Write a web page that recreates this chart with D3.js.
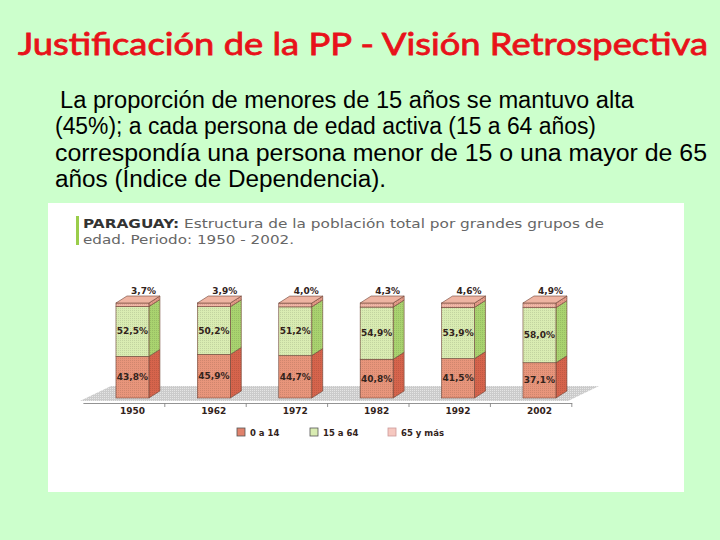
<!DOCTYPE html>
<html><head><meta charset="utf-8">
<script src="https://cdn.jsdelivr.net/npm/d3@7"></script>
<style>html,body{margin:0;padding:0;background:#ccffcc;}svg{display:block;}</style>
</head><body>
<script>
// ---- data ----
const years = ["1950","1962","1972","1982","1992","2002"];
const age0to14 = [43.8,45.9,44.7,40.8,41.5,37.1];
const age15to64 = [52.5,50.2,51.2,54.9,53.9,58.0];
const age65plus = [3.7,3.9,4.0,4.3,4.6,4.9];
const seriesNames = ["0 a 14","15 a 64","65 y más"];
const titleText = "Justificación de la PP - Visión Retrospectiva";
const bodyLines = [
  "La proporción de menores de 15 años se mantuvo alta",
  "(45%); a cada persona de edad activa (15 a 64 años)",
  "correspondía una persona menor de 15 o una mayor de 65",
  "años (Índice de Dependencia)."
];
const chartTitleBold = "PARAGUAY:";
const chartTitleRest = " Estructura de la población total por grandes grupos de";
const chartTitleLine2 = "edad. Periodo: 1950 - 2002.";

const W = 720, H = 540;
const svg = d3.select("body").append("svg").attr("width", W).attr("height", H);
const defs = svg.append("defs");
function dots(id, color, op){
  const p = defs.append("pattern").attr("id", id).attr("width", 2).attr("height", 2).attr("patternUnits", "userSpaceOnUse");
  p.append("rect").attr("width",1).attr("height",1).attr("fill", color).attr("opacity", op);
}
dots("dotD", "#000", 0.10);
dots("dotF", "#fff", 0.5);

svg.append("rect").attr("width", W).attr("height", H).attr("fill", "#ccffcc");

// slide title
svg.append("text").attr("x", 18).attr("y", 55).text(titleText)
  .attr("font-family", "Lato,'DejaVu Sans',sans-serif").attr("font-size", 31)
  .attr("fill", "#e8121a").attr("stroke", "#e8121a").attr("stroke-width", 0.8)
  .attr("textLength", 690).attr("lengthAdjust", "spacingAndGlyphs");

// body
const bodyX = [60,55,55,55], bodyW = [574,541,652,331];
bodyLines.forEach((t,i)=>{
  svg.append("text").attr("x", bodyX[i]).attr("y", 108 + i*26.3).text(t)
    .attr("font-family", "'Liberation Sans Narrow','Liberation Sans',Arial,sans-serif")
    .attr("font-size", 23).attr("fill", "#000")
    .attr("textLength", bodyW[i]).attr("lengthAdjust", "spacingAndGlyphs");
});

// white panel
svg.append("rect").attr("x", 48).attr("y", 203).attr("width", 636).attr("height", 289).attr("fill", "#fff");

// chart title
svg.append("rect").attr("x", 76).attr("y", 216).attr("width", 3).attr("height", 29).attr("fill", "#9acd4a");
const ct = svg.append("text").attr("x", 83).attr("y", 228)
  .attr("font-family", "'DejaVu Sans',Verdana,sans-serif").attr("font-size", 11.5).attr("fill", "#666")
  .attr("textLength", 521).attr("lengthAdjust", "spacingAndGlyphs");
ct.append("tspan").attr("font-weight", "bold").attr("fill", "#333").text(chartTitleBold);
ct.append("tspan").text(chartTitleRest);
svg.append("text").attr("x", 83).attr("y", 244).text(chartTitleLine2)
  .attr("font-family", "'DejaVu Sans',Verdana,sans-serif").attr("font-size", 11.5).attr("fill", "#666")
  .attr("textLength", 211).attr("lengthAdjust", "spacingAndGlyphs");

// scales
const x = d3.scaleBand().domain(years).range([83.4, 588.5]).paddingInner(0.595).paddingOuter(0.4);
const y = d3.scaleLinear().domain([0, 100]).range([398, 303]);
const bw = x.bandwidth(), step = x.step();
const dx = 11, dy = -7;

// floor
const fl = 80, fr = 568, fy = 401, fdx = 31, fdy = -15;
const floorPts = [[fl,fy],[fr,fy],[fr+fdx,fy+fdy],[fl+fdx,fy+fdy]];
svg.append("polygon").attr("points", floorPts.map(p=>p.join(",")).join(" ")).attr("fill", "#cbcbcb");
svg.append("polygon").attr("points", floorPts.map(p=>p.join(",")).join(" ")).attr("fill", "url(#dotF)");

// axis
const axisG = svg.append("g");
const x0 = x.range()[0];
axisG.append("line").attr("x1", x0).attr("x2", x0 + step*6 + 0.5).attr("y1", 403.5).attr("y2", 403.5).attr("stroke", "#777").attr("stroke-width", 0.8);
axisG.selectAll("line.t").data(d3.range(1,7)).join("line").attr("class","t")
  .attr("x1", d=>x0 + d*step).attr("x2", d=>x0 + d*step).attr("y1", 403.5).attr("y2", 407)
  .attr("stroke", "#777").attr("stroke-width", 0.8);
axisG.selectAll("text.yr").data(years).join("text").attr("class","yr")
  .attr("x", d=>x(d)+bw/2).attr("y", 413.5).attr("text-anchor","middle").text(d=>d)
  .attr("font-family", "'DejaVu Sans',Verdana,sans-serif").attr("font-weight","bold").attr("font-size", 9).attr("fill", "#33231b");

// stack
const rows = years.map((yr,i)=>({year:yr, "0 a 14":age0to14[i], "15 a 64":age15to64[i], "65 y más":age65plus[i]}));
const stack = d3.stack().keys(seriesNames)(rows);
const frontCol = {"0 a 14":"#e8957b","15 a 64":"#d9ecb2","65 y más":"#f1b5a5"};
const sideCol = {"0 a 14":"#d6644c","15 a 64":"#a9d36f","65 y más":"#e49a87"};
const topCol = "#eeb4a2";
const edge = "#6e4336";
const fmt = v => d3.format(".1f")(v).replace(".", ",") + "%";

stack.forEach(s=>{
  const g = svg.append("g");
  s.forEach(d=>{
    const xx = x(d.data.year), y0 = y(d[0]), y1 = y(d[1]);
    const side = [[xx+bw,y0],[xx+bw+dx,y0+dy],[xx+bw+dx,y1+dy],[xx+bw,y1]];
    g.append("polygon").attr("points", side.map(p=>p.join(",")).join(" ")).attr("fill", sideCol[s.key]).attr("stroke", edge).attr("stroke-width",0.6);
    g.append("polygon").attr("points", side.map(p=>p.join(",")).join(" ")).attr("fill", "url(#dotD)");
    g.append("rect").attr("x", xx).attr("y", y1).attr("width", bw).attr("height", y0-y1)
      .attr("fill", frontCol[s.key]).attr("stroke", edge).attr("stroke-width",0.6);
    g.append("rect").attr("x", xx).attr("y", y1).attr("width", bw).attr("height", y0-y1).attr("fill", "url(#dotD)");
    if (s.key === "65 y más") {
      const top = [[xx,y1],[xx+bw,y1],[xx+bw+dx,y1+dy],[xx+dx,y1+dy]];
      g.append("polygon").attr("points", top.map(p=>p.join(",")).join(" ")).attr("fill", topCol).attr("stroke", edge).attr("stroke-width",0.6);
      g.append("text").attr("x", xx+bw/2+11).attr("y", y1+dy-2).attr("text-anchor","middle").text(fmt(d.data[s.key]))
        .attr("font-family", "'DejaVu Sans',Verdana,sans-serif").attr("font-weight","bold").attr("font-size", 9).attr("fill", "#33231b");
    } else {
      g.append("text").attr("x", xx+bw/2).attr("y", (y0+y1)/2+3).attr("text-anchor","middle").text(fmt(d.data[s.key]))
        .attr("font-family", "'DejaVu Sans',Verdana,sans-serif").attr("font-weight","bold").attr("font-size", 9).attr("fill", "#33231b");
    }
  });
});

// legend
const legX = [237, 310, 388];
const legCol = {"0 a 14":"#e0826c","15 a 64":"#d9ecb2","65 y más":"#f6c8c0"};
const leg = svg.append("g");
seriesNames.forEach((k,i)=>{
  leg.append("rect").attr("x", legX[i]).attr("y", 428).attr("width", 8).attr("height", 8)
    .attr("fill", legCol[k]).attr("stroke", k==="65 y más" ? "#c99" : "#555").attr("stroke-width", 0.8);
  leg.append("text").attr("x", legX[i]+13).attr("y", 435.5).text(k)
    .attr("font-family", "'DejaVu Sans',Verdana,sans-serif").attr("font-weight","bold").attr("font-size", 8.5).attr("fill", "#33231b");
});
</script>
</body></html>
